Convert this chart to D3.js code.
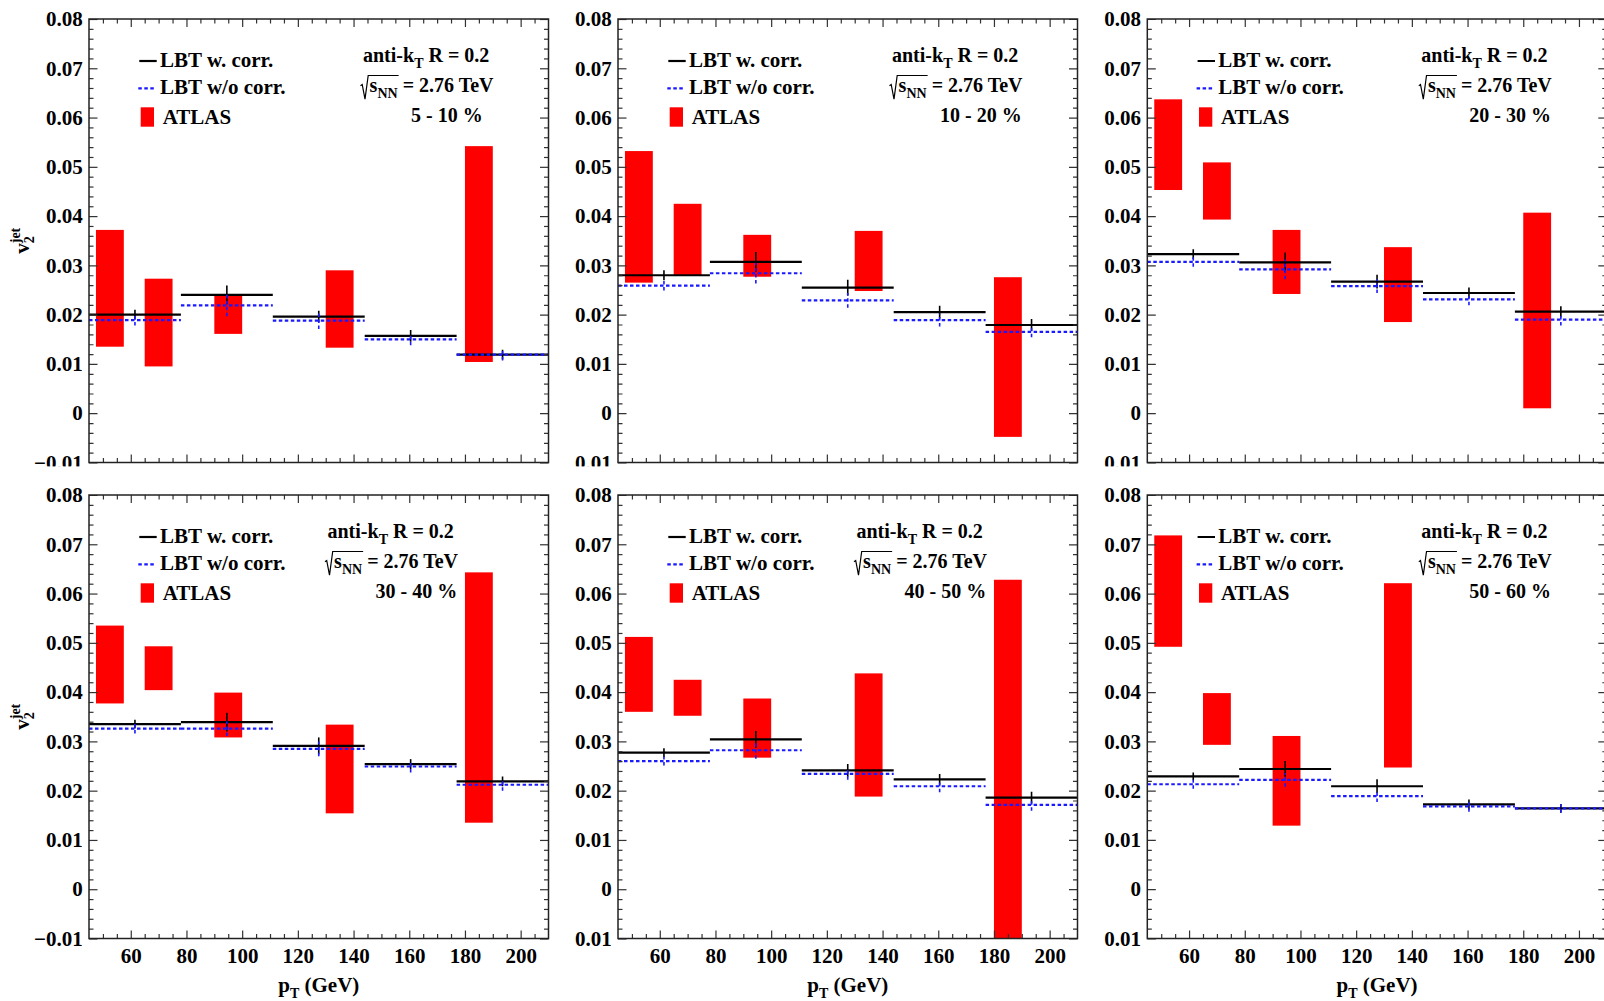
<!DOCTYPE html>
<html>
<head>
<meta charset="utf-8">
<script src="https://cdn.jsdelivr.net/npm/d3@7"></script>
<style>
  body { margin: 0; background: #fff; }
  svg text { font-family: "Liberation Serif", "Times New Roman", serif; font-weight: bold; fill: #000; }
</style>
</head>
<body>
<svg id="fig" width="1604" height="1001"></svg>
<script>
// ---- data -------------------------------------------------------------
const centralities = ["5 - 10 %", "10 - 20 %", "20 - 30 %", "30 - 40 %", "40 - 50 %", "50 - 60 %"];

// LBT pT bins (GeV)
const lbtBinEdges = [45, 78, 111, 144, 177, 210];

// LBT v2 with correlation, and its statistical error
const lbtWithCorr = [
  [0.0200, 0.0240, 0.0196, 0.0157, 0.0119],
  [0.0280, 0.0307, 0.0255, 0.0205, 0.0179],
  [0.0323, 0.0306, 0.0267, 0.0244, 0.0206],
  [0.0335, 0.0339, 0.0291, 0.0254, 0.0219],
  [0.0277, 0.0304, 0.0241, 0.0223, 0.0186],
  [0.0229, 0.0244, 0.0209, 0.0172, 0.0164]
];
const lbtWithCorrErr = [
  [0.0010, 0.0019, 0.0012, 0.0012, 0.0010],
  [0.0010, 0.0020, 0.0016, 0.0013, 0.0012],
  [0.0010, 0.0020, 0.0014, 0.0011, 0.0011],
  [0.0009, 0.0019, 0.0017, 0.0010, 0.0010],
  [0.0009, 0.0017, 0.0013, 0.0011, 0.0012],
  [0.0008, 0.0016, 0.0014, 0.0010, 0.0009]
];

// LBT v2 without correlation, and its statistical error
const lbtNoCorr = [
  [0.0189, 0.0219, 0.0188, 0.0150, 0.0119],
  [0.0259, 0.0284, 0.0229, 0.0189, 0.0165],
  [0.0307, 0.0292, 0.0258, 0.0231, 0.0190],
  [0.0326, 0.0326, 0.0285, 0.0249, 0.0212],
  [0.0260, 0.0282, 0.0234, 0.0209, 0.0171],
  [0.0213, 0.0222, 0.0189, 0.0168, 0.0164]
];
const lbtNoCorrErr = [
  [0.0011, 0.0022, 0.0017, 0.0012, 0.0012],
  [0.0010, 0.0021, 0.0015, 0.0013, 0.0011],
  [0.0010, 0.0020, 0.0014, 0.0012, 0.0012],
  [0.0010, 0.0015, 0.0015, 0.0012, 0.0012],
  [0.0009, 0.0017, 0.0012, 0.0012, 0.0012],
  [0.0009, 0.0014, 0.0012, 0.0011, 0.0009]
];

// ATLAS measurement: bin centres (GeV) and uncertainty band limits
const atlasPt = [52.5, 70, 95, 135, 185];
const atlasHalfWidth = 5;
const atlasHigh = [
  [0.0372, 0.0273, 0.0240, 0.0290, 0.0542],
  [0.0532, 0.0425, 0.0362, 0.0370, 0.0276],
  [0.0637, 0.0509, 0.0372, 0.0337, 0.0407],
  [0.0535, 0.0493, 0.0399, 0.0334, 0.0643],
  [0.0512, 0.0425, 0.0387, 0.0438, 0.0628],
  [0.0718, 0.0398, 0.0311, 0.0621, null]
];
const atlasLow = [
  [0.0135, 0.0095, 0.0161, 0.0133, 0.0104],
  [0.0265, 0.0280, 0.0277, 0.0248, -0.0048],
  [0.0453, 0.0393, 0.0242, 0.0185, 0.0010],
  [0.0377, 0.0404, 0.0308, 0.0154, 0.0135],
  [0.0360, 0.0352, 0.0267, 0.0188, -0.0150],
  [0.0492, 0.0293, 0.0129, 0.0247, null]
];

// axis ticks
const xDomain = [45, 210];
const xTickValues = [60, 80, 100, 120, 140, 160, 180, 200];
const xMinorTicks = [50, 55, 65, 70, 75, 85, 90, 95, 105, 110, 115, 125, 130, 135, 145, 150, 155, 165, 170, 175, 185, 190, 195, 205];
const yDomain = [-0.01, 0.08];
const yTickValues = [-0.01, 0, 0.01, 0.02, 0.03, 0.04, 0.05, 0.06, 0.07, 0.08];
const yMinorTicks = [-8, -6, -4, -2, 2, 4, 6, 8, 12, 14, 16, 18, 22, 24, 26, 28, 32, 34, 36, 38,
                     42, 44, 46, 48, 52, 54, 56, 58, 62, 64, 66, 68, 72, 74, 76, 78].map(v => v / 1000);

// ---- layout -----------------------------------------------------------
const frameW = 459.5, frameH = 443.5;
const colLeft = [89, 618, 1147.3];
const rowTop = [19, 495];
const rowSplit = 466.5;
const infoX = [274, 274, 274, 238.5, 238.5, 274];

const svg = d3.select("#fig");
const defs = svg.append("defs");
defs.append("clipPath").attr("id", "plotArea")
  .append("rect").attr("x", 0).attr("y", 0).attr("width", frameW).attr("height", frameH);

const fmtY = d => (Math.abs(d) < 1e-9 ? "0" : d3.format(".2f")(d));

centralities.forEach((label, i) => {
  const r = Math.floor(i / 3), c = i % 3;
  const x0 = colLeft[c], y0 = rowTop[r];

  // each pad has its own canvas that clips its overflowing labels
  const cx = c === 0 ? 0 : x0 - 43;
  const cy = r === 0 ? 0 : rowSplit;
  const cw = (c === 2 ? 1604 : colLeft[c + 1] - 43) - cx;
  const ch = (r === 0 ? rowSplit : 1001) - cy;
  defs.append("clipPath").attr("id", "canvas" + i)
    .append("rect").attr("x", cx).attr("y", cy).attr("width", cw).attr("height", ch);

  const pad = svg.append("g").attr("clip-path", `url(#canvas${i})`);
  pad.append("rect").attr("x", cx).attr("y", cy).attr("width", cw).attr("height", ch).attr("fill", "#fff");
  const g = pad.append("g").attr("transform", `translate(${x0},${y0})`);

  const x = d3.scaleLinear().domain(xDomain).range([0, frameW]);
  const y = d3.scaleLinear().domain(yDomain).range([frameH, 0]);

  // ATLAS uncertainty boxes
  const plot = g.append("g").attr("clip-path", "url(#plotArea)");
  const boxes = atlasPt.map((pt, k) => ({ pt, lo: atlasLow[i][k], hi: atlasHigh[i][k] }))
    .filter(d => d.lo !== null && d.hi !== null);
  plot.selectAll("rect.atlas").data(boxes).join("rect")
    .attr("class", "atlas")
    .attr("x", d => x(d.pt - atlasHalfWidth))
    .attr("width", d => x(d.pt + atlasHalfWidth) - x(d.pt - atlasHalfWidth))
    .attr("y", d => y(d.hi))
    .attr("height", d => y(d.lo) - y(d.hi))
    .attr("fill", "#ff0000");

  // LBT histograms
  function drawHist(vals, errs, color, dash) {
    const bins = vals.map((v, k) => ({ v, e: errs[k], x1: lbtBinEdges[k], x2: lbtBinEdges[k + 1] }));
    const hg = plot.append("g").attr("stroke", color).attr("fill", "none");
    hg.selectAll("line.h").data(bins).join("line")
      .attr("x1", d => x(d.x1)).attr("x2", d => x(d.x2))
      .attr("y1", d => y(d.v)).attr("y2", d => y(d.v))
      .attr("stroke-width", 2.2)
      .attr("stroke-dasharray", dash);
    hg.selectAll("line.e").data(bins).join("line")
      .attr("x1", d => x((d.x1 + d.x2) / 2)).attr("x2", d => x((d.x1 + d.x2) / 2))
      .attr("y1", d => y(d.v - d.e)).attr("y2", d => y(d.v + d.e))
      .attr("stroke-width", 1.6)
      .attr("stroke-dasharray", dash);
  }
  drawHist(lbtWithCorr[i], lbtWithCorrErr[i], "#000", null);
  drawHist(lbtNoCorr[i], lbtNoCorrErr[i], "#1a1aff", "3.5,2.5");

  // axes (ticks point inwards on all four sides)
  const tickStyle = sel => {
    sel.select(".domain").remove();
    sel.selectAll("line").attr("stroke", "#333").attr("stroke-width", 1.2);
    sel.selectAll("text").attr("font-size", 21).attr("fill", "#000")
      .style("font-family", '"Liberation Serif", "Times New Roman", serif').style("font-weight", "bold");
  };
  const bottom = g.append("g").attr("transform", `translate(0,${frameH})`)
    .call(d3.axisBottom(x).tickValues(xTickValues).tickSizeInner(-8).tickSizeOuter(0).tickPadding(10)
      .tickFormat(r === 1 ? d3.format("d") : () => ""));
  tickStyle(bottom);
  const bottomMinor = g.append("g").attr("transform", `translate(0,${frameH})`)
    .call(d3.axisBottom(x).tickValues(xMinorTicks).tickSizeInner(-4.5).tickSizeOuter(0).tickFormat(() => ""));
  tickStyle(bottomMinor);
  const top = g.append("g")
    .call(d3.axisTop(x).tickValues(xTickValues).tickSizeInner(-8).tickSizeOuter(0).tickFormat(() => ""));
  tickStyle(top);
  const topMinor = g.append("g")
    .call(d3.axisTop(x).tickValues(xMinorTicks).tickSizeInner(-4.5).tickSizeOuter(0).tickFormat(() => ""));
  tickStyle(topMinor);
  const left = g.append("g")
    .call(d3.axisLeft(y).tickValues(yTickValues).tickSizeInner(-8.5).tickSizeOuter(0).tickPadding(6.3).tickFormat(fmtY));
  tickStyle(left);
  const leftMinor = g.append("g")
    .call(d3.axisLeft(y).tickValues(yMinorTicks).tickSizeInner(-4.5).tickSizeOuter(0).tickFormat(() => ""));
  tickStyle(leftMinor);
  const right = g.append("g").attr("transform", `translate(${frameW},0)`)
    .call(d3.axisRight(y).tickValues(yTickValues).tickSizeInner(-8.5).tickSizeOuter(0).tickFormat(() => ""));
  tickStyle(right);
  const rightMinor = g.append("g").attr("transform", `translate(${frameW},0)`)
    .call(d3.axisRight(y).tickValues(yMinorTicks).tickSizeInner(-4.5).tickSizeOuter(0).tickFormat(() => ""));
  tickStyle(rightMinor);

  // frame
  g.append("rect").attr("x", 0).attr("y", 0).attr("width", frameW).attr("height", frameH)
    .attr("fill", "none").attr("stroke", "#222").attr("stroke-width", 1.5);

  // axis titles
  if (c === 0) {
    const t = g.append("text")
      .attr("transform", `translate(-60.4,${frameH / 2}) rotate(-90)`)
      .attr("text-anchor", "middle").attr("font-size", 21);
    t.append("tspan").text("v");
    t.append("tspan").attr("font-size", 14).attr("dy", 5).text("2");
    t.append("tspan").attr("font-size", 14).attr("dx", -7).attr("dy", -14).text("jet");
  }
  if (r === 1) {
    const t = g.append("text")
      .attr("x", frameW / 2).attr("y", frameH + 53.2)
      .attr("text-anchor", "middle").attr("font-size", 21);
    t.append("tspan").text("p");
    t.append("tspan").attr("font-size", 14).attr("dy", 6).text("T");
    t.append("tspan").attr("dy", -6).text(" (GeV)");
  }

  // legend
  const lg = g.append("g");
  lg.append("line").attr("x1", 50.3).attr("x2", 67.7).attr("y1", 42).attr("y2", 42)
    .attr("stroke", "#000").attr("stroke-width", 2.2);
  lg.append("text").attr("x", 71).attr("y", 47.7).attr("font-size", 21).text("LBT w. corr.");
  lg.append("line").attr("x1", 49.3).attr("x2", 65.5).attr("y1", 69.3).attr("y2", 69.3)
    .attr("stroke", "#1a1aff").attr("stroke-width", 2.2).attr("stroke-dasharray", "3.5,2.5");
  lg.append("text").attr("x", 71).attr("y", 75.3).attr("font-size", 21).text("LBT w/o corr.");
  lg.append("rect").attr("x", 51.7).attr("y", 88.3).attr("width", 13.3).attr("height", 19.4).attr("fill", "#ff0000");
  lg.append("text").attr("x", 73.7).attr("y", 105.3).attr("font-size", 21).text("ATLAS");

  // jet / collision info
  const tx = infoX[i];
  const a = g.append("text").attr("x", tx).attr("y", 43.3).attr("font-size", 20);
  a.append("tspan").text("anti-k");
  a.append("tspan").attr("font-size", 14).attr("dy", 6).text("T");
  a.append("tspan").attr("dy", -6).text(" R = 0.2");

  const base = 72.7;
  const sx = tx + 6.6;
  const s = g.append("text").attr("x", sx).attr("y", base).attr("font-size", 20);
  const sPart = s.append("tspan").text("s");
  const nnPart = s.append("tspan").attr("font-size", 14).attr("dy", 6).text("NN");
  s.append("tspan").attr("dy", -6).text(" = 2.76 TeV");
  const rootW = sPart.node().getComputedTextLength() + nnPart.node().getComputedTextLength();
  g.append("path")
    .attr("d", `M${tx - 2.5},${base - 6} L${tx - 0.8},${base - 7.2} L${tx + 2},${base + 7.5} L${tx + 5.2},${base - 16.2} L${sx + rootW + 1},${base - 16.2}`)
    .attr("fill", "none").attr("stroke", "#000").attr("stroke-width", 1.2);

  g.append("text").attr("x", tx + 48).attr("y", 103.3).attr("font-size", 20).text(label);
});
</script>
</body>
</html>
